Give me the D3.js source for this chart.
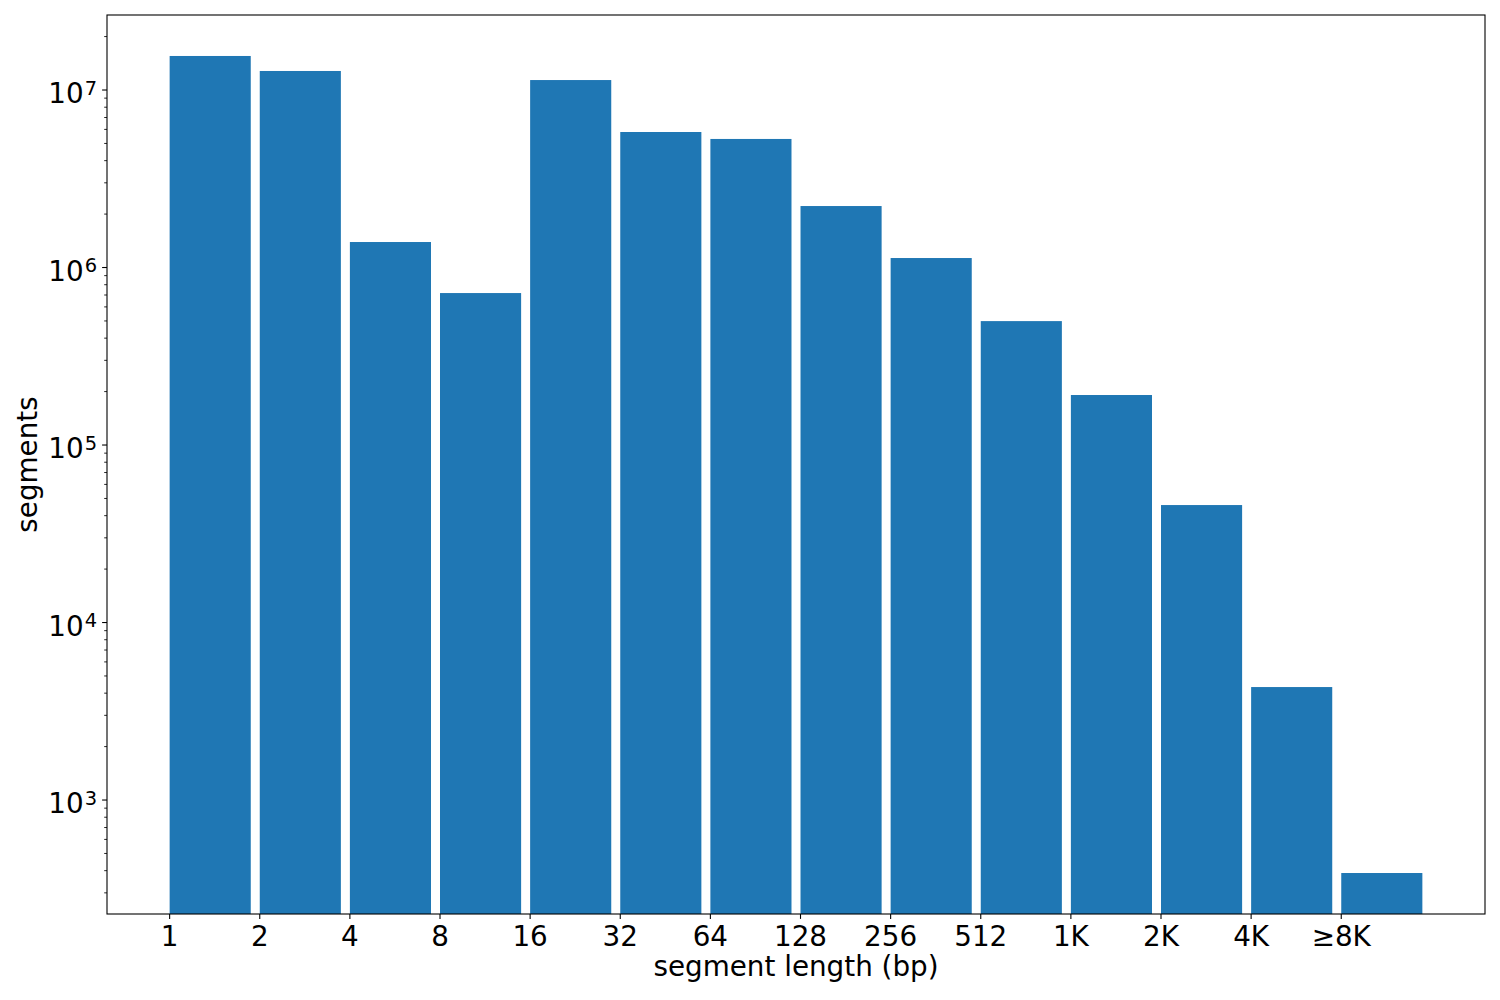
<!DOCTYPE html>
<html>
<head>
<meta charset="utf-8">
<script src="https://cdn.jsdelivr.net/npm/d3@7"></script>
<style>
  html, body { margin: 0; padding: 0; background: #fff; }
  svg { display: block; font-family: "DejaVu Sans", sans-serif; }
</style>
</head>
<body>
<svg id="chart" width="1500" height="1000"></svg>
<script>
// Data
const categories = ["1", "2", "4", "8", "16", "32", "64", "128", "256", "512", "1K", "2K", "4K", "\u22658K"];
const segmentCounts = [15550000, 12800000, 1392000, 718000, 11380000, 5800000, 5300000, 2220000, 1131000, 499000, 191300, 45900, 4330, 388];
const yTickValues = [1e3, 1e4, 1e5, 1e6, 1e7];
const yTickExponents = ["3", "4", "5", "6", "7"];
const xLabel = "segment length (bp)";
const yLabel = "segments";

const svg = d3.select("#chart");
const plotLeft = 107, plotRight = 1485, plotTop = 15, plotBottom = 914;
const barWidth = 0.9;
const fontSize = 27.8;

const x = d3.scaleLinear().domain([-0.695, 14.595]).range([plotLeft, plotRight]);
const y = d3.scaleLog().domain([228, 2.646e7]).range([plotBottom, plotTop]);

// Bars
svg.append("g").selectAll("rect")
  .data(segmentCounts)
  .enter().append("rect")
  .attr("x", (d, i) => x(i))
  .attr("width", (d, i) => x(i + barWidth) - x(i))
  .attr("y", d => y(d))
  .attr("height", d => plotBottom - y(d))
  .attr("fill", "#1f77b4");

// Minor ticks on y
const [ymin, ymax] = y.domain();
const minorTicks = [];
for (let e = 2; e <= 7; e++) {
  for (let m = 2; m <= 9; m++) {
    const v = m * Math.pow(10, e);
    if (v >= ymin && v <= ymax) minorTicks.push(v);
  }
}
svg.append("g").selectAll("line")
  .data(minorTicks)
  .enter().append("line")
  .attr("x1", plotLeft).attr("x2", plotLeft - 2.8)
  .attr("y1", d => y(d)).attr("y2", d => y(d))
  .attr("stroke", "#000").attr("stroke-width", 0.85);

// Major y ticks
const yt = svg.append("g");
yt.selectAll("line")
  .data(yTickValues)
  .enter().append("line")
  .attr("x1", plotLeft).attr("x2", plotLeft - 4.9)
  .attr("y1", d => y(d)).attr("y2", d => y(d))
  .attr("stroke", "#000").attr("stroke-width", 1.1);

yTickValues.forEach((v, i) => {
  const t = yt.append("text")
    .attr("x", 97)
    .attr("y", y(v) + 13)
    .attr("text-anchor", "end")
    .attr("font-size", fontSize)
    .attr("fill", "#000");
  t.append("tspan").text("10");
  t.append("tspan")
    .attr("dx", 1)
    .attr("dy", -8.5)
    .attr("font-size", fontSize * 0.7)
    .text(yTickExponents[i]);
});

// X ticks
const xt = svg.append("g");
categories.forEach((c, i) => {
  xt.append("line")
    .attr("x1", x(i)).attr("x2", x(i))
    .attr("y1", plotBottom).attr("y2", plotBottom + 4.9)
    .attr("stroke", "#000").attr("stroke-width", 1.1);
  xt.append("text")
    .attr("x", x(i))
    .attr("y", 946)
    .attr("text-anchor", "middle")
    .attr("font-size", fontSize)
    .attr("fill", "#000")
    .text(c);
});

// Frame
svg.append("rect")
  .attr("x", plotLeft).attr("y", plotTop)
  .attr("width", plotRight - plotLeft).attr("height", plotBottom - plotTop)
  .attr("fill", "none").attr("stroke", "#000").attr("stroke-width", 1.1);

// Axis labels
svg.append("text")
  .attr("x", (plotLeft + plotRight) / 2)
  .attr("y", 976)
  .attr("text-anchor", "middle")
  .attr("font-size", fontSize)
  .attr("fill", "#000")
  .text(xLabel);

svg.append("text")
  .attr("transform", `translate(37, ${(plotTop + plotBottom) / 2}) rotate(-90)`)
  .attr("text-anchor", "middle")
  .attr("font-size", fontSize)
  .attr("fill", "#000")
  .text(yLabel);
</script>
</body>
</html>
